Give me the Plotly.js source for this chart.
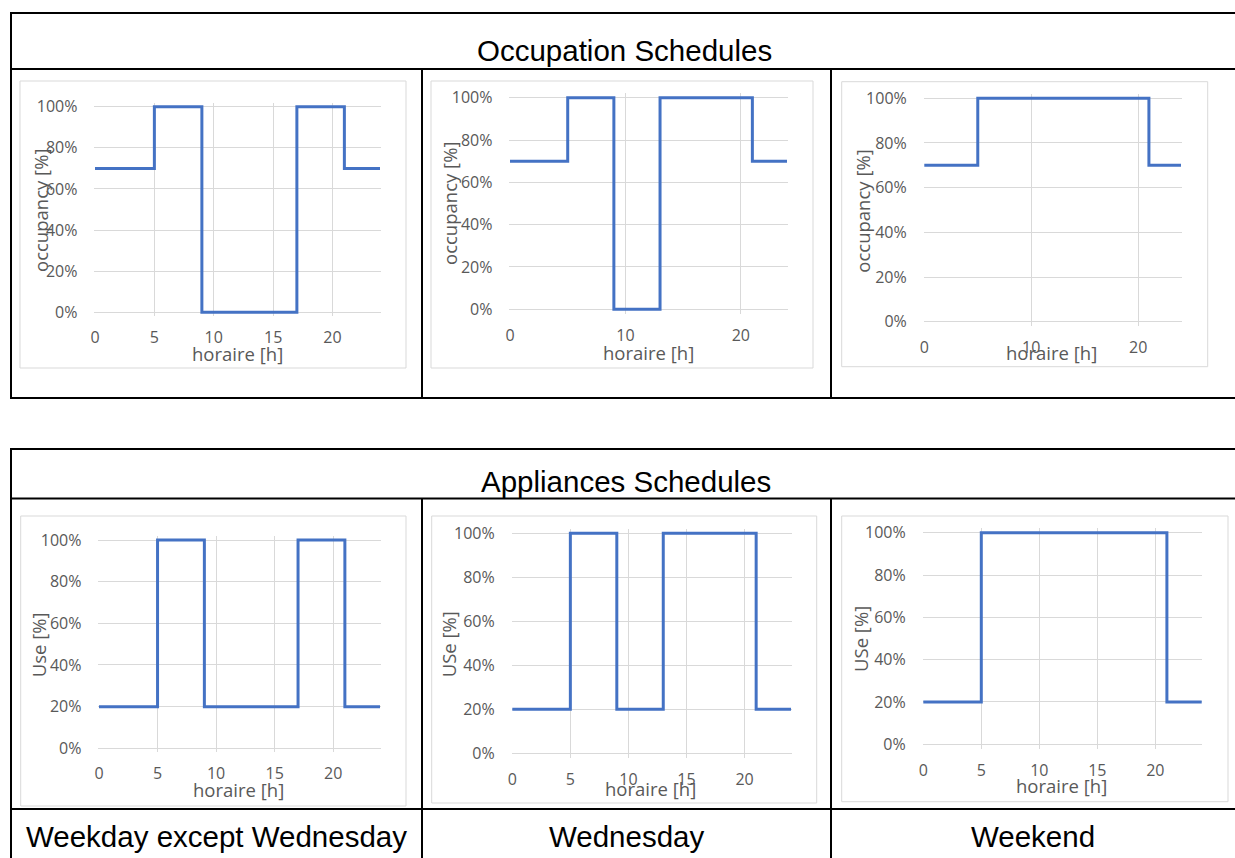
<!DOCTYPE html>
<html>
<head>
<meta charset="utf-8">
<script src="https://cdn.plot.ly/plotly-3.0.1.min.js"></script>
<style>html,body{margin:0;padding:0;background:#fff;}#chart{width:1235px;height:858px;}</style>
</head>
<body>
<div id="chart"></div>
<script>
// ---------- data ----------
const hoursOccWeekday = [0, 5, 9, 17, 21, 24];
const occWeekday      = [0.7, 1.0, 0.0, 1.0, 0.7, 0.7];
const hoursOccWed     = [0, 5, 9, 13, 21, 24];
const occWed          = [0.7, 1.0, 0.0, 1.0, 0.7, 0.7];
const hoursOccWeekend = [0, 5, 21, 24];
const occWeekend      = [0.7, 1.0, 0.7, 0.7];
const hoursAppWeekday = [0, 5, 9, 17, 21, 24];
const appWeekday      = [0.2, 1.0, 0.2, 1.0, 0.2, 0.2];
const hoursAppWed     = [0, 5, 9, 13, 21, 24];
const appWed          = [0.2, 1.0, 0.2, 1.0, 0.2, 0.2];
const hoursAppWeekend = [0, 5, 21, 24];
const appWeekend      = [0.2, 1.0, 0.2, 0.2];

const yTickVals  = [0, 0.2, 0.4, 0.6, 0.8, 1.0];
const yTickText  = ['0%', '20%', '40%', '60%', '80%', '100%'];
const xTicks5    = [0, 5, 10, 15, 20];
const xTicks10   = [0, 10, 20];
const tableTitles = ['Occupation Schedules', 'Appliances Schedules'];
const dayLabels   = ['Weekday except Wednesday', 'Wednesday', 'Weekend'];
const yTitles     = ['occupancy [%]', 'occupancy [%]', 'occupancy [%]', 'Use [%]', 'USe [%]', 'USe [%]'];
const xTitle      = 'horaire [h]';

// ---------- layout helpers ----------
const W = 1235, H = 858;
const fx = v => v / W;
const fy = v => 1 - v / H;

const series = [
  {x: hoursOccWeekday, y: occWeekday, ticks: xTicks5},
  {x: hoursOccWed,     y: occWed,     ticks: xTicks10},
  {x: hoursOccWeekend, y: occWeekend, ticks: xTicks10},
  {x: hoursAppWeekday, y: appWeekday, ticks: xTicks5},
  {x: hoursAppWed,     y: appWed,     ticks: xTicks5},
  {x: hoursAppWeekend, y: appWeekend, ticks: xTicks5}
];
// pixel geometry of each chart
const geo = [
  {x0: 95,    x24: 380,    y100: 106.7, y0: 312.3, box: [20, 81, 406, 368],       yt: [40, 211],    xt: [237, 353]},
  {x0: 510,   x24: 787,    y100: 97.7,  y0: 309.3, box: [431, 81, 813, 368],      yt: [450, 204],   xt: [648, 352.7]},
  {x0: 924.3, x24: 1181,   y100: 98.3,  y0: 321.7, box: [841.7, 81.7, 1207.7, 366.7], yt: [861.7, 211], xt: [1051.7, 352.7]},
  {x0: 99,    x24: 380,    y100: 540,   y0: 748.3, box: [20.7, 516, 406, 806],    yt: [38.3, 645],  xt: [238.7, 789.3]},
  {x0: 512.3, x24: 791,    y100: 533.3, y0: 753.3, box: [431.7, 516, 816.7, 803], yt: [448.3, 644], xt: [650.5, 788.3]},
  {x0: 923.3, x24: 1201.7, y100: 532.7, y0: 744.3, box: [841.7, 516, 1228, 801.7], yt: [860, 639],  xt: [1061.7, 785]}
];

const grey = '#595959';
const tickFont = {family: 'Open Sans, sans-serif', size: 16, color: grey};
const titleFont = {family: 'Open Sans, sans-serif', size: 18.5, color: grey};
const tableFont = {family: 'Liberation Sans, Arial, sans-serif', size: 29.5, color: '#000'};

const traces = [];
const layout = {
  width: W, height: H,
  margin: {l: 0, r: 0, t: 0, b: 0},
  paper_bgcolor: '#fff', plot_bgcolor: 'rgba(0,0,0,0)',
  showlegend: false,
  shapes: [], annotations: []
};

const py = 0.02, px = 0.05;
series.forEach((s, i) => {
  const g = geo[i];
  const n = i === 0 ? '' : String(i + 1);
  traces.push({
    type: 'scatter', mode: 'lines', x: s.x, y: s.y,
    xaxis: 'x' + n, yaxis: 'y' + n,
    line: {shape: 'hv', color: '#4472C4', width: 3},
    hoverinfo: 'skip'
  });
  const ppx = (g.x24 - g.x0) / 24;
  const ppy = (g.y0 - g.y100);
  layout['xaxis' + n] = {
    domain: [fx(g.x0 - px * ppx), fx(g.x24 + px * ppx)],
    range: [-px, 24 + px],
    anchor: 'y' + n,
    tickvals: s.ticks, ticktext: s.ticks.map(String),
    showgrid: true, gridcolor: '#d9d9d9', gridwidth: 1,
    zeroline: false, showline: false, ticks: '',
    tickfont: tickFont, ticklabelstandoff: 10, fixedrange: true
  };
  layout['yaxis' + n] = {
    domain: [fy(g.y0 + py * ppy), fy(g.y100 - py * ppy)],
    range: [-py, 1 + py],
    anchor: 'x' + n,
    tickvals: yTickVals, ticktext: yTickText,
    showgrid: true, gridcolor: '#d9d9d9', gridwidth: 1,
    zeroline: false, showline: false, ticks: '',
    tickfont: tickFont, ticklabelstandoff: 16, fixedrange: true
  };
  layout.shapes.push({type: 'rect', xref: 'paper', yref: 'paper',
    x0: fx(g.box[0]), x1: fx(g.box[2]), y0: fy(g.box[3]), y1: fy(g.box[1]),
    line: {color: '#d9d9d9', width: 1}, layer: 'below'});
  layout.annotations.push({xref: 'paper', yref: 'paper', x: fx(g.yt[0]), y: fy(g.yt[1]),
    text: yTitles[i], textangle: -90, showarrow: false, font: titleFont,
    xanchor: 'center', yanchor: 'middle'});
  layout.annotations.push({xref: 'paper', yref: 'paper', x: fx(g.xt[0]), y: fy(g.xt[1]),
    text: xTitle, showarrow: false, font: titleFont,
    xanchor: 'center', yanchor: 'middle'});
});

// table borders
function hline(y, x0, x1) {
  layout.shapes.push({type: 'line', xref: 'paper', yref: 'paper',
    x0: fx(x0), x1: fx(x1), y0: fy(y), y1: fy(y), line: {color: '#000', width: 2}});
}
function vline(x, y0, y1) {
  layout.shapes.push({type: 'line', xref: 'paper', yref: 'paper',
    x0: fx(x), x1: fx(x), y0: fy(y0), y1: fy(y1), line: {color: '#000', width: 2}});
}
// table 1
hline(13, 10, 1235); hline(69, 10, 1235); hline(398, 10, 1235);
vline(11, 13, 398); vline(422, 69, 398); vline(831, 69, 398);
// table 2
hline(449, 10, 1235); hline(498.5, 10, 1235); hline(809, 10, 1235);
vline(11, 449, 858); vline(422, 498.5, 858); vline(831, 498.5, 858);

layout.annotations.push({xref: 'paper', yref: 'paper', x: fx(624), y: fy(50),
  text: tableTitles[0], showarrow: false, font: tableFont, xanchor: 'center', yanchor: 'middle'});
layout.annotations.push({xref: 'paper', yref: 'paper', x: fx(626), y: fy(482),
  text: tableTitles[1], showarrow: false, font: tableFont, xanchor: 'center', yanchor: 'middle'});
const labelX = [216, 627, 1033];
dayLabels.forEach((t, i) => {
  layout.annotations.push({xref: 'paper', yref: 'paper', x: fx(labelX[i]), y: fy(836),
    text: t, showarrow: false, font: tableFont, xanchor: 'center', yanchor: 'middle'});
});

Plotly.newPlot('chart', traces, layout, {staticPlot: true, displayModeBar: false});
</script>
</body>
</html>
